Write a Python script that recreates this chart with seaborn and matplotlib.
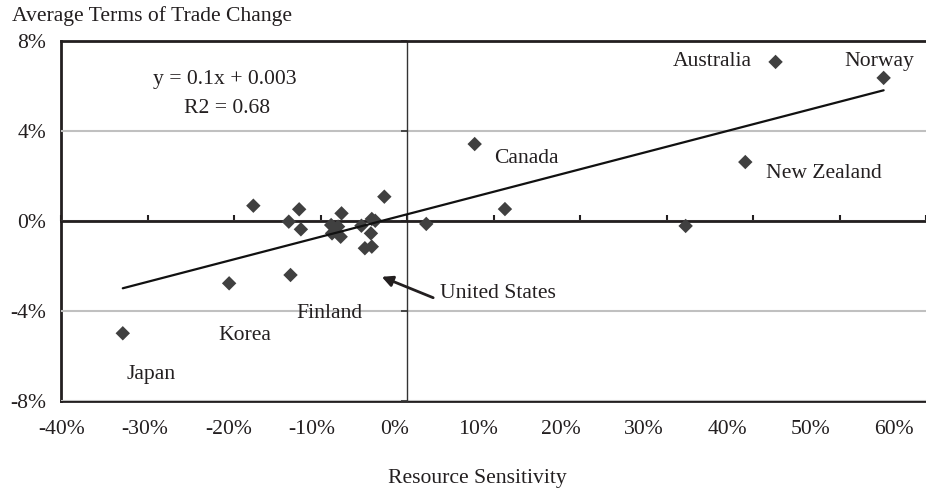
import numpy as np
import pandas as pd
import matplotlib
matplotlib.use("Agg")
import matplotlib.pyplot as plt
import seaborn as sns

# ---- data (percent) ----
resource_sensitivity = [-32.9, -20.6, -13.5, -17.8, -12.5, -13.7, -12.3, -7.6, -8.8, -8.0,
                        -8.7, -7.7, -5.3, -4.1, -3.7, -4.2, -4.9, -4.1, -2.65, 2.2,
                        7.8, 11.3, 32.2, 39.1, 42.6, 55.1]
terms_of_trade_change = [-4.99, -2.77, -2.40, 0.68, 0.52, -0.03, -0.37, 0.34, -0.18, -0.25,
                         -0.55, -0.70, -0.21, 0.09, 0.01, -0.55, -1.21, -1.14, 1.08, -0.13,
                         3.42, 0.53, -0.22, 2.62, 7.07, 6.36]
x_ticks = [-40, -30, -20, -10, 0, 10, 20, 30, 40, 50, 60]
y_ticks = [-8, -4, 0, 4, 8]
trend_slope = 0.1
trend_intercept = 0.003
r_squared = 0.68

country_labels = ["Australia", "Norway", "Canada", "New Zealand", "United States",
                  "Finland", "Korea", "Japan"]

sns.set_style("white")
plt.rcParams["font.family"] = ["Liberation Serif", "DejaVu Serif"]
plt.rcParams["font.size"] = 15.6
TEXT = "#231f20"
plt.rcParams["text.color"] = TEXT
plt.rcParams["xtick.color"] = TEXT
plt.rcParams["ytick.color"] = TEXT

W, H = 926, 491
fig = plt.figure(figsize=(W / 100, H / 100), dpi=100)

px_per = 8.69
x0_px = 409
left_px = x0_px - 40 * px_per
xmax = (W - x0_px) / px_per
ax = fig.add_axes([left_px / W, 90 / H, (W - left_px) / W, 360 / H])

df = pd.DataFrame({"x": resource_sensitivity, "y": terms_of_trade_change})
sns.scatterplot(data=df, x="x", y="y", marker="D", s=54, color="#404040",
                edgecolor="none", linewidth=0, ax=ax, zorder=4)

xfit = np.array([df["x"].min(), df["x"].max()])
fit = pd.DataFrame({"x": xfit, "y": 100 * (trend_slope * xfit / 100 + trend_intercept)})
sns.lineplot(data=fit, x="x", y="y", color="#111111", lw=1.6, ax=ax, zorder=5)

ax.set_xlim(-40, xmax)
ax.set_ylim(-8, 8)
ax.set(xlabel="", ylabel="")

# frame: top drawn by primary, left/bottom by label axes
ax.spines["top"].set_color(TEXT)
ax.spines["top"].set_linewidth(2)
ax.spines["right"].set_visible(False)

# zero axes (primary spines moved to data 0)
ax.spines["bottom"].set_position(("data", 0))
ax.spines["bottom"].set_color(TEXT)
ax.spines["bottom"].set_linewidth(2)
ax.spines["left"].set_position(("data", 0))
ax.spines["left"].set_color("#333333")
ax.spines["left"].set_linewidth(1)

ax.set_xticks(x_ticks)
ax.tick_params(axis="x", bottom=True, direction="in", length=4.5, width=1.5,
               color=TEXT, labelbottom=False)
ax.set_yticks(y_ticks)
ax.tick_params(axis="y", left=True, direction="out", length=4.5, width=1.2,
               color="#333333", labelleft=False)
ax.yaxis.grid(True, color="#c0c0c0", lw=1.5)
ax.xaxis.grid(False)
ax.set_axisbelow(True)

# y labels on the left frame
sec_y = ax.secondary_yaxis("left")
sec_y.spines["left"].set_color(TEXT)
sec_y.spines["left"].set_linewidth(2)
sec_y.set_yticks(y_ticks)
sec_y.set_yticklabels([f"{v:.0f}%" for v in y_ticks])
sec_y.tick_params(axis="y", left=True, length=0, pad=11)

# x labels on the bottom frame
fwd = lambda x: (12.6 + 8.69 * np.asarray(x)) / 8.36
inv = lambda L: (8.36 * np.asarray(L) - 12.6) / 8.69
sec_x = ax.secondary_xaxis("bottom", functions=(fwd, inv))
sec_x.spines["bottom"].set_color(TEXT)
sec_x.spines["bottom"].set_linewidth(2)
sec_x.set_xticks(x_ticks)
sec_x.set_xticklabels([f"{v:.0f}%" for v in x_ticks])
sec_x.tick_params(axis="x", bottom=True, length=0, pad=14)

# annotations
label_pos = {
    "Australia": (39.9, 7.07, "right"),
    "Norway": (50.6, 7.07, "left"),
    "Canada": (10.0, 2.76, "left"),
    "New Zealand": (41.5, 2.13, "left"),
    "United States": (3.8, -3.2, "left"),
    "Finland": (-12.8, -4.09, "left"),
    "Korea": (-21.9, -5.11, "left"),
    "Japan": (-32.5, -6.8, "left"),
}
for name in country_labels:
    x, y, ha = label_pos[name]
    ax.text(x, y, name, ha=ha, va="center", zorder=6)

ax.annotate("", xy=(-2.95, -2.48), xytext=(3.0, -3.41),
            arrowprops=dict(arrowstyle="-|>", color=TEXT, lw=2, mutation_scale=16,
                            shrinkA=0, shrinkB=0), zorder=6)

ax.text(-21.1, 6.31, f"y = {trend_slope:g}x + {trend_intercept:g}", ha="center", va="center")
ax.text(-20.8, 5.02, f"R2 = {r_squared:.2f}", ha="center", va="center")

fig.text(12 / W, 1 - 16 / H, "Average Terms of Trade Change", ha="left", va="center")
fig.text(477.5 / W, 1 - 478 / H, "Resource Sensitivity", ha="center", va="center")

fig.savefig("out.png", dpi=100)
